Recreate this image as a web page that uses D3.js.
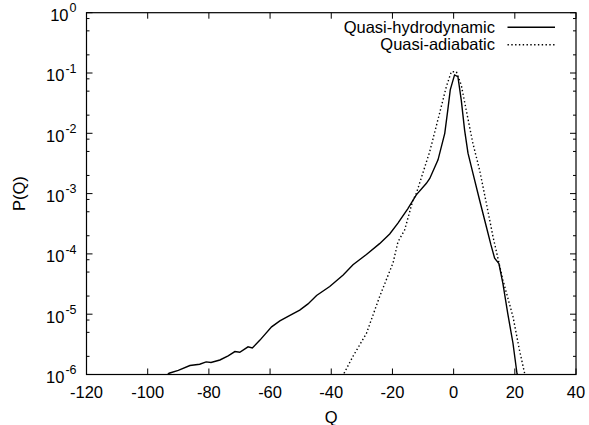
<!DOCTYPE html>
<head>
  <meta charset="utf-8">
  <script src="https://d3js.org/d3.v7.min.js"></script>
  <style>
    body { margin:0; padding:0; background:#fff; }
    text { font-family: "Liberation Sans", Arial, sans-serif; fill:#000; }
  </style>
</head>
<body>
  <script>
    // Quasi-hydrodynamic (solid)
    var hydroQ = [-94.5, -93, -90, -86.2, -83, -80.9, -79.3, -76.4, -73.7, -71.5, -69.9, -67.2, -65.8, -63.3,
      -59.5, -56.8, -53.5, -50.3, -47.6, -44.8, -40.5, -36.1, -32.9, -28.5, -24.2, -20.9, -18.2, -15,
      -12.2, -8.9, -7.8, -5.1, -2.9, -1.9, -1.1, 0.3, 1.4, 2.5, 3.6, 4.7, 6.3, 8.5, 10.7, 12.2, 13.4,
      14.8, 16.1, 17.7, 19.4, 20.7, 21];
    var hydroP = [8.9e-7, 1.05e-6, 1.17e-6, 1.41e-6, 1.48e-6, 1.62e-6, 1.58e-6, 1.74e-6, 2.04e-6, 2.4e-6, 2.34e-6, 2.88e-6, 2.75e-6, 3.72e-6,
      6.17e-6, 7.76e-6, 9.55e-6, 1.17e-5, 1.48e-5, 2.04e-5, 2.88e-5, 4.47e-5, 6.61e-5, 9.77e-5, 1.48e-4, 2.14e-4, 3.24e-4, 5.6e-4,
      9.55e-4, 1.48e-3, 1.78e-3, 3.63e-3, 1.0e-2, 2.45e-2, 5.25e-2, 9.3e-2, 8.7e-2, 3.55e-2, 1.12e-2, 4.68e-3, 2.19e-3, 7.76e-4, 2.82e-4, 1.41e-4, 8.5e-5,
      6.9e-5, 3.24e-5, 1.02e-5, 3.3e-6, 1.05e-6, 8.9e-7];

    // Quasi-adiabatic (dotted)
    var adiaQ = [-36.5, -35.8, -32.9, -28.5, -24.2, -23.1, -19.8, -18.2, -16, -13.3, -12.2, -7.8, -4.6, -2.4,
      -0.75, 0.9, 2.5, 4.1, 6.3, 8.5, 10.7, 12.9, 16.1, 19.4, 21.5, 23.2, 23.5];
    var adiaP = [7.9e-7, 1.05e-6, 2.0e-6, 4.8e-6, 1.95e-5, 2.7e-5, 7.1e-5, 1.58e-4, 2.5e-4, 7.8e-4, 1.0e-3, 5.0e-3, 2.14e-2, 5.9e-2,
      0.105, 0.105, 6.3e-2, 2.45e-2, 6.8e-3, 2.45e-3, 6.9e-4, 1.9e-4, 3.7e-5, 9.1e-6, 2.57e-6, 1.05e-6, 8.9e-7];

    var xTicks = [-120, -100, -80, -60, -40, -20, 0, 20, 40];
    var yExps = [0, -1, -2, -3, -4, -5, -6];
    var yMinorMult = [2, 5, 8];

    var width = 589, height = 425;
    var margin = {top: 12.7, right: 13, bottom: 50.5, left: 86.5};
    var w = width - margin.left - margin.right,
        h = height - margin.top - margin.bottom;
    var fs = "16.5px";

    var svg = d3.select("body").append("svg")
      .attr("width", width).attr("height", height);

    var x = d3.scaleLinear().domain([-120, 40]).range([0, w]);
    var y = d3.scaleLog().domain([1e-6, 1]).range([h, 0]);

    var g = svg.append("g").attr("transform", "translate(" + margin.left + "," + margin.top + ")");

    g.append("clipPath").attr("id", "clip")
      .append("rect").attr("width", w).attr("height", h);

    // ticks (gnuplot style: inward, mirrored)
    var ticks = g.append("g").attr("stroke", "#000").attr("stroke-width", 1);
    xTicks.forEach(function(t) {
      ticks.append("line").attr("x1", x(t)).attr("x2", x(t)).attr("y1", h).attr("y2", h - 6);
      ticks.append("line").attr("x1", x(t)).attr("x2", x(t)).attr("y1", 0).attr("y2", 6);
    });
    yExps.forEach(function(e) {
      var v = Math.pow(10, e);
      ticks.append("line").attr("x1", 0).attr("x2", 6).attr("y1", y(v)).attr("y2", y(v));
      ticks.append("line").attr("x1", w).attr("x2", w - 6).attr("y1", y(v)).attr("y2", y(v));
      if (e < 0) {
        yMinorMult.forEach(function(m) {
          var mv = m * v;
          ticks.append("line").attr("x1", 0).attr("x2", 3).attr("y1", y(mv)).attr("y2", y(mv));
          ticks.append("line").attr("x1", w).attr("x2", w - 3).attr("y1", y(mv)).attr("y2", y(mv));
        });
      }
    });

    // tick labels
    g.selectAll(".xl").data(xTicks).enter().append("text")
      .attr("x", function(d) { return x(d); })
      .attr("y", h + 23.8)
      .attr("text-anchor", "middle")
      .style("font-size", fs)
      .text(function(d) { return d; });

    var yl = g.selectAll(".yl").data(yExps).enter().append("text")
      .attr("x", -10)
      .attr("y", function(d) { return y(Math.pow(10, d)) + 8.4; })
      .attr("text-anchor", "end")
      .style("font-size", fs);
    yl.append("tspan").text("10");
    yl.append("tspan").attr("dx", 1).attr("dy", -8.7).style("font-size", "12.5px").text(function(d) { return d; });

    // axis titles
    svg.append("text")
      .attr("x", margin.left + w / 2).attr("y", 422.5)
      .attr("text-anchor", "middle").style("font-size", fs).text("Q");
    svg.append("text")
      .attr("transform", "translate(24.5," + (margin.top + y(1e-3)) + ") rotate(-90)")
      .attr("text-anchor", "middle").style("font-size", fs).text("P(Q)");

    // curves
    var line = d3.line()
      .x(function(d) { return x(d[0]); })
      .y(function(d) { return y(d[1]); });

    var plot = g.append("g").attr("clip-path", "url(#clip)");
    plot.append("path")
      .datum(d3.zip(hydroQ, hydroP))
      .attr("d", line)
      .attr("fill", "none").attr("stroke", "#000").attr("stroke-width", 1.4);
    plot.append("path")
      .datum(d3.zip(adiaQ, adiaP))
      .attr("d", line)
      .attr("fill", "none").attr("stroke", "#000").attr("stroke-width", 1.4)
      .attr("stroke-dasharray", "1.4,2.4");

    // frame
    g.append("rect").attr("width", w).attr("height", h)
      .attr("fill", "none").attr("stroke", "#000").attr("stroke-width", 1.2);

    // legend
    var legend = [
      {name: "Quasi-hydrodynamic", dash: null, yy: 27.3},
      {name: "Quasi-adiabatic", dash: "1.4,2.4", yy: 44.8}
    ];
    legend.forEach(function(l) {
      svg.append("text").attr("x", 495).attr("y", l.yy + 5.4)
        .attr("text-anchor", "end").style("font-size", fs).text(l.name);
      svg.append("line").attr("x1", 507.5).attr("x2", 555).attr("y1", l.yy).attr("y2", l.yy)
        .attr("stroke", "#000").attr("stroke-width", 1.4)
        .attr("stroke-dasharray", l.dash);
    });
  </script>
</body>
